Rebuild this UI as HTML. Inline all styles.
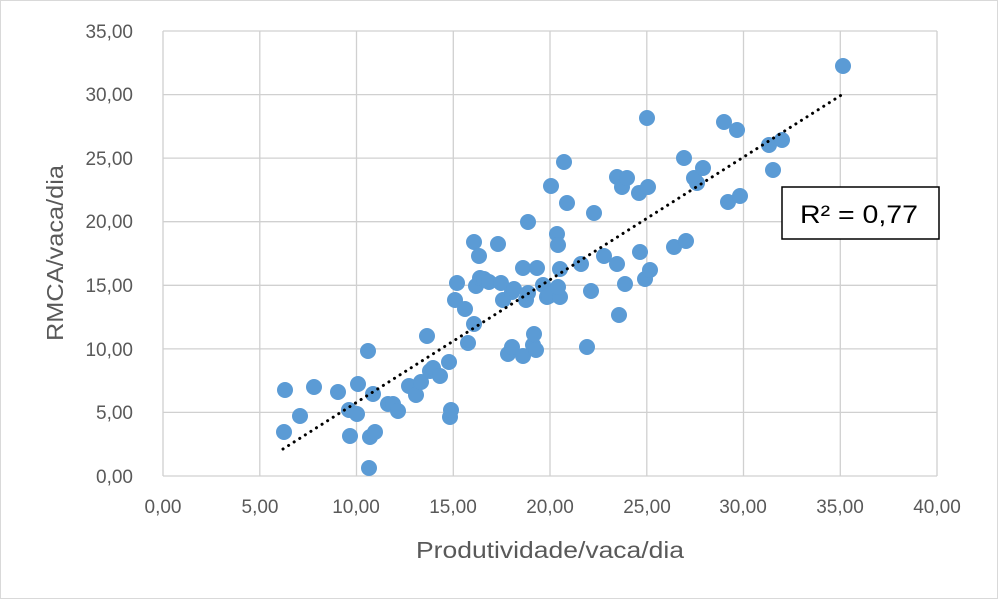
<!DOCTYPE html>
<html><head><meta charset="utf-8"><style>
body{margin:0;background:#fff}
svg{display:block;font-family:"Liberation Sans",sans-serif}
</style></head><body>
<svg width="998" height="599" viewBox="0 0 998 599">
<rect x="0.5" y="0.5" width="997" height="598" fill="#fff" stroke="#d9d9d9"/>
<g stroke="#d0d0d0" stroke-width="1.3">
<line x1="163" y1="31" x2="937" y2="31"/><line x1="163" y1="94.6" x2="937" y2="94.6"/>
<line x1="163" y1="158.1" x2="937" y2="158.1"/><line x1="163" y1="221.7" x2="937" y2="221.7"/>
<line x1="163" y1="285.3" x2="937" y2="285.3"/><line x1="163" y1="348.9" x2="937" y2="348.9"/>
<line x1="163" y1="412.4" x2="937" y2="412.4"/><line x1="163" y1="476" x2="937" y2="476"/>
<line x1="163" y1="31" x2="163" y2="476"/><line x1="259.8" y1="31" x2="259.8" y2="476"/>
<line x1="356.5" y1="31" x2="356.5" y2="476"/><line x1="453.3" y1="31" x2="453.3" y2="476"/>
<line x1="550" y1="31" x2="550" y2="476"/><line x1="646.8" y1="31" x2="646.8" y2="476"/>
<line x1="743.5" y1="31" x2="743.5" y2="476"/><line x1="840.3" y1="31" x2="840.3" y2="476"/>
<line x1="937" y1="31" x2="937" y2="476"/>
</g>
<g fill="#595959" font-size="19" text-anchor="end">
<text x="133" y="38">35,00</text><text x="133" y="101">30,00</text><text x="133" y="165">25,00</text>
<text x="133" y="228">20,00</text><text x="133" y="292">15,00</text><text x="133" y="356">10,00</text>
<text x="133" y="419">5,00</text><text x="133" y="483">0,00</text>
</g>
<g fill="#595959" font-size="19" text-anchor="middle">
<text x="163" y="513">0,00</text><text x="260" y="513">5,00</text><text x="356" y="513">10,00</text>
<text x="453" y="513">15,00</text><text x="550" y="513">20,00</text><text x="647" y="513">25,00</text>
<text x="743" y="513">30,00</text><text x="840" y="513">35,00</text><text x="937" y="513">40,00</text>
<text x="550" y="558" font-size="23" textLength="268" lengthAdjust="spacingAndGlyphs">Produtividade/vaca/dia</text>
<text transform="translate(63,253) rotate(-90)" font-size="23" textLength="176" lengthAdjust="spacingAndGlyphs">RMCA/vaca/dia</text>
</g>
<g fill="#5b9bd5">
<circle cx="284" cy="432" r="8"/><circle cx="285" cy="390" r="8"/><circle cx="300" cy="416" r="8"/>
<circle cx="314" cy="387" r="8"/><circle cx="338" cy="392" r="8"/><circle cx="349" cy="410" r="8"/>
<circle cx="350" cy="436" r="8"/><circle cx="358" cy="384" r="8"/><circle cx="357" cy="414" r="8"/>
<circle cx="368" cy="351" r="8"/><circle cx="370" cy="437" r="8"/><circle cx="373" cy="394" r="8"/>
<circle cx="369" cy="468" r="8"/><circle cx="375" cy="432" r="8"/><circle cx="388" cy="404" r="8"/>
<circle cx="393" cy="404" r="8"/><circle cx="398" cy="411" r="8"/><circle cx="409" cy="386" r="8"/>
<circle cx="416" cy="395" r="8"/><circle cx="421" cy="382" r="8"/><circle cx="427" cy="336" r="8"/>
<circle cx="430" cy="371" r="8"/><circle cx="433" cy="368" r="8"/><circle cx="440" cy="376" r="8"/>
<circle cx="449" cy="362" r="8"/><circle cx="450" cy="417" r="8"/><circle cx="451" cy="410" r="8"/>
<circle cx="457" cy="283" r="8"/><circle cx="455" cy="300" r="8"/><circle cx="465" cy="309" r="8"/>
<circle cx="468" cy="343" r="8"/><circle cx="474" cy="324" r="8"/><circle cx="474" cy="242" r="8"/>
<circle cx="476" cy="286" r="8"/><circle cx="479" cy="256" r="8"/><circle cx="480" cy="278" r="8"/>
<circle cx="484" cy="279" r="8"/><circle cx="489" cy="282" r="8"/><circle cx="498" cy="244" r="8"/>
<circle cx="501" cy="283" r="8"/><circle cx="503" cy="300" r="8"/><circle cx="508" cy="354" r="8"/>
<circle cx="512" cy="347" r="8"/><circle cx="512" cy="292" r="8"/><circle cx="514" cy="289" r="8"/>
<circle cx="523" cy="268" r="8"/><circle cx="523" cy="356" r="8"/><circle cx="526" cy="300" r="8"/>
<circle cx="528" cy="293" r="8"/><circle cx="533" cy="345" r="8"/><circle cx="534" cy="334" r="8"/>
<circle cx="536" cy="350" r="8"/><circle cx="537" cy="268" r="8"/><circle cx="528" cy="222" r="8"/>
<circle cx="543" cy="285" r="8"/><circle cx="547" cy="297" r="8"/><circle cx="549" cy="296" r="8"/>
<circle cx="551" cy="186" r="8"/><circle cx="557" cy="234" r="8"/><circle cx="558" cy="245" r="8"/>
<circle cx="564" cy="162" r="8"/><circle cx="567" cy="203" r="8"/><circle cx="560" cy="297" r="8"/>
<circle cx="558" cy="287" r="8"/><circle cx="560" cy="269" r="8"/><circle cx="581" cy="264" r="8"/>
<circle cx="587" cy="347" r="8"/><circle cx="591" cy="291" r="8"/><circle cx="594" cy="213" r="8"/>
<circle cx="604" cy="256" r="8"/><circle cx="617" cy="177" r="8"/><circle cx="617" cy="264" r="8"/>
<circle cx="619" cy="315" r="8"/><circle cx="622" cy="187" r="8"/><circle cx="627" cy="178" r="8"/>
<circle cx="625" cy="284" r="8"/><circle cx="639" cy="193" r="8"/><circle cx="640" cy="252" r="8"/>
<circle cx="645" cy="279" r="8"/><circle cx="650" cy="270" r="8"/><circle cx="647" cy="118" r="8"/>
<circle cx="648" cy="187" r="8"/><circle cx="674" cy="247" r="8"/><circle cx="684" cy="158" r="8"/>
<circle cx="686" cy="241" r="8"/><circle cx="697" cy="183" r="8"/><circle cx="694" cy="178" r="8"/>
<circle cx="703" cy="168" r="8"/><circle cx="724" cy="122" r="8"/><circle cx="737" cy="130" r="8"/>
<circle cx="728" cy="202" r="8"/><circle cx="740" cy="196" r="8"/><circle cx="769" cy="145" r="8"/>
<circle cx="782" cy="140" r="8"/><circle cx="773" cy="170" r="8"/><circle cx="843" cy="66" r="8"/>
</g>
<line x1="283" y1="449" x2="843" y2="94" stroke="#000" stroke-width="3" stroke-dasharray="0.1 6.5" stroke-linecap="round"/>
<rect x="782" y="187" width="157" height="52" fill="#fff" stroke="#000" stroke-width="1.5"/>
<text x="859" y="223" font-size="25" text-anchor="middle" fill="#000" textLength="118" lengthAdjust="spacingAndGlyphs">R² = 0,77</text>
</svg>
</body></html>
